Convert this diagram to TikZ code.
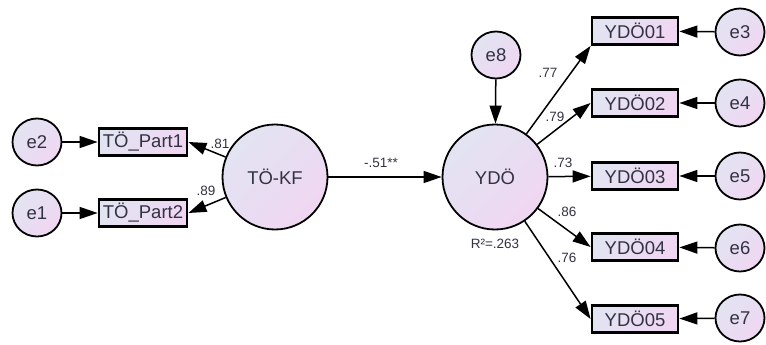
\documentclass[tikz,border=0pt]{standalone}
\usepackage{fontspec}
\setmainfont{Liberation Sans}
\usetikzlibrary{arrows.meta,shadings,shapes.geometric}
\definecolor{gA}{RGB}{226,228,242}
\definecolor{gB}{RGB}{240,214,242}
\definecolor{txt}{RGB}{50,50,66}
\begin{document}
\begin{tikzpicture}[x=1pt,y=-1pt,
  font=\fontsize{18.5}{22}\selectfont,
  grad/.style={top color=gA,bottom color=gB,shading angle=45},
  latent/.style={circle,draw=black,line width=1.8pt,grad,minimum size=105pt,inner sep=0pt,text=txt},
  err/.style={ellipse,draw=black,line width=1.8pt,grad,minimum width=49pt,minimum height=47pt,inner sep=0pt,text=txt},
  obs/.style={rectangle,draw=black,line width=2.8pt,grad,minimum width=86pt,minimum height=27pt,inner sep=0pt,text=txt},
  pth/.style={line width=1.5pt,-{Triangle[length=18pt,width=12pt]}},
  lbl/.style={font=\fontsize{13.5}{16}\selectfont,text=txt,inner sep=0pt}
]
\useasboundingbox (0,0) rectangle (766,345);
% nodes
\node[err] (e2) at (37,142) {e2};
\node[err] (e1) at (37,213) {e1};
\node[obs,minimum width=88pt] (p1) at (143,142) {TÖ\_Part1};
\node[obs,minimum width=88pt] (p2) at (143,213) {TÖ\_Part2};
\node[latent] (tkf) at (275,177) {TÖ-KF};
\node[latent] (ydo) at (495,177) {YDÖ};
\node[err] (e8) at (496,55) {e8};
\node[obs] (y1) at (635,31) {YDÖ01};
\node[obs] (y2) at (635,103) {YDÖ02};
\node[obs] (y3) at (635,176) {YDÖ03};
\node[obs] (y4) at (635,247) {YDÖ04};
\node[obs] (y5) at (635,319) {YDÖ05};
\node[err] (e3) at (740,32) {e3};
\node[err] (e4) at (740,103) {e4};
\node[err] (e5) at (740,176) {e5};
\node[err] (e6) at (740,248) {e6};
\node[err] (e7) at (740,318) {e7};
% paths
\draw[pth] (e2) -- (p1);
\draw[pth] (e1) -- (p2);
\draw[pth] (tkf) -- (p1.east);
\draw[pth] (tkf) -- (p2.east);
\draw[pth] (tkf) -- (ydo);
\draw[pth] (e8) -- (ydo);
\draw[pth] (ydo) -- (y1.south west);
\draw[pth] (ydo) -- (y2.west);
\draw[pth] (ydo) -- (y3);
\draw[pth] (ydo) -- (y4.west);
\draw[pth] (ydo) -- (y5.west);
\draw[pth] (e3) -- (y1);
\draw[pth] (e4) -- (y2);
\draw[pth] (e5) -- (y3);
\draw[pth] (e6) -- (y4);
\draw[pth] (e7) -- (y5);
% labels
\node[lbl] (l81) at (220,144) {.81};
\node[lbl] (l89) at (206,191) {.89};
\node[lbl] (l51) at (381,163) {-.51**};
\node[lbl] (lr2) at (495,244) {R²=.263};
\node[lbl] (l77) at (548,73) {.77};
\node[lbl] (l79) at (555,117) {.79};
\node[lbl] (l73) at (563,163) {.73};
\node[lbl] (l86) at (567,212) {.86};
\node[lbl] (l76) at (567,258) {.76};
\end{tikzpicture}
\end{document}
